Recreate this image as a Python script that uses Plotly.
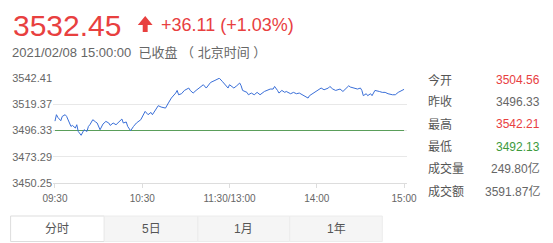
import plotly.graph_objects as go

# ---------------- data ----------------
minutes = [0, 1, 2, 4, 5, 7, 8, 10, 11, 12, 14, 15, 16, 18, 19, 20, 22, 23, 24, 26, 28, 29,
           31, 33, 35, 37, 38, 40, 42, 44, 46, 47, 49, 50, 52, 54, 56, 59, 61, 62, 64, 66,
           67, 69, 71, 73, 76, 78, 80, 83, 84, 85, 87, 89, 92, 93, 95, 97, 100, 102, 104,
           105, 107, 110, 112, 113, 115, 117, 119, 120, 122, 123, 125, 127, 128, 129, 132,
           133, 135, 137, 139, 141, 144, 146, 148, 150, 151, 153, 154, 156, 158, 159, 162,
           164, 166, 168, 170, 172, 174, 175, 177, 180, 182, 183, 185, 188, 189, 191, 193,
           196, 198, 200, 202, 203, 206, 208, 210, 211, 212, 214, 215, 217, 218, 220, 223,
           225, 227, 229, 232, 234, 236, 238, 240]
prices = [3504.56, 3510.2, 3507.8, 3504.9, 3508.7, 3510.2, 3508.7, 3502.9, 3499.9, 3500.8,
          3498.5, 3501.4, 3495.5, 3492.13, 3494.1, 3497.0, 3495.5, 3499.9, 3501.4, 3505.8,
          3503.8, 3502.9, 3497.0, 3502.0, 3504.3, 3502.9, 3500.8, 3502.9, 3501.4, 3503.8,
          3506.4, 3502.9, 3503.8, 3499.9, 3496.1, 3499.9, 3502.9, 3505.8, 3510.2, 3513.1,
          3510.2, 3512.2, 3510.2, 3513.9, 3518.1, 3516.9, 3516.0, 3520.5, 3524.8, 3529.2,
          3531.5, 3527.7, 3528.6, 3531.5, 3533.6, 3531.5, 3529.2, 3531.5, 3534.5, 3536.5,
          3533.6, 3535.0, 3538.5, 3540.3, 3541.5, 3542.21, 3539.5, 3536.5, 3533.6, 3536.5,
          3534.5, 3533.6, 3535.6, 3538.0, 3535.6, 3531.5, 3529.8, 3527.7, 3529.2, 3527.7,
          3529.8, 3527.7, 3530.6, 3531.5, 3532.7, 3532.7, 3535.0, 3531.5, 3529.2, 3531.5,
          3529.8, 3530.6, 3528.6, 3529.8, 3528.6, 3529.2, 3527.7, 3526.9, 3524.8, 3526.9,
          3528.6, 3530.6, 3532.1, 3533.6, 3532.1, 3533.6, 3535.0, 3532.7, 3531.5, 3532.7,
          3530.6, 3532.7, 3535.6, 3534.5, 3533.6, 3532.7, 3533.6, 3531.5, 3526.9, 3528.6,
          3526.9, 3528.6, 3526.9, 3531.5, 3530.6, 3529.8, 3529.8, 3528.6, 3527.7, 3527.7,
          3529.8, 3531.5, 3532.45]

prev_close = 3496.33
x_tickvals = [0, 60, 120, 180, 240]
x_ticktext = ["09:30", "10:30", "11:30/13:00", "14:00", "15:00"]
y_tickvals = [3450.25, 3473.29, 3496.33, 3519.37, 3542.41]
y_ticktext = ["3450.25", "3473.29", "3496.33", "3519.37", "3542.41"]

last_price = "3532.45"
change_text = "+36.11 (+1.03%)"
time_text = "2021/02/08 15:00:00  已收盘 （ 北京时间 ）"

stat_labels = ["今开", "昨收", "最高", "最低", "成交量", "成交额"]
stat_values = ["3504.56", "3496.33", "3542.21", "3492.13", "249.80亿", "3591.87亿"]
tab_labels = ["分时", "5日", "1月", "1年"]

# ---------------- layout geometry ----------------
W, H = 553, 243
L, R, T, B = 48, 146, 78, 60
PW, PH = W - L - R, H - T - B
PX_PER_MIN = 354 / 240.0

def px(x):
    return (x - L) / PW

def py(y):
    return (H - B - y) / PH

RED = "#e8403f"
GREEN = "#3c9a3c"
GRAY = "#666666"
FONT = "Liberation Sans, Arial, Noto Sans CJK SC"

fig = go.Figure()
fig.add_trace(go.Scatter(x=[0, 240], y=[prev_close, prev_close], mode="lines",
                         line=dict(color="#5a9e5a", width=1), hoverinfo="skip"))
fig.add_trace(go.Scatter(x=minutes, y=prices, mode="lines",
                         line=dict(color="#3a6fd8", width=1), hoverinfo="skip"))

fig.update_xaxes(range=[-2 / PX_PER_MIN, 240 + 3 / PX_PER_MIN], tickvals=x_tickvals,
                 ticktext=x_ticktext, showgrid=False, zeroline=False, showline=True,
                 linecolor="#dddddd", linewidth=1, ticks="outside", ticklen=4,
                 tickcolor="#dddddd", tickfont=dict(size=10, color=GRAY, family=FONT),
                 ticklabelstandoff=2, fixedrange=True)
fig.update_yaxes(range=[3450.25, 3542.41], tickvals=y_tickvals, ticktext=y_ticktext,
                 showgrid=True, gridcolor="#e8e8e8", gridwidth=1, zeroline=False,
                 showline=False, ticks="", tickfont=dict(size=11, color=GRAY, family=FONT),
                 fixedrange=True)

ann = []
shapes = []
ann.append(dict(x=px(5), y=py(25), xref="paper", yref="paper", text=last_price,
                showarrow=False, xanchor="left", yanchor="middle",
                font=dict(size=30, color=RED, family=FONT)))
ann.append(dict(x=px(156), y=py(25), xref="paper", yref="paper", text=change_text,
                showarrow=False, xanchor="left", yanchor="middle",
                font=dict(size=18, color=RED, family=FONT)))
ann.append(dict(x=px(4), y=py(52.5), xref="paper", yref="paper", text=time_text,
                showarrow=False, xanchor="left", yanchor="middle",
                font=dict(size=13, color=GRAY, family=FONT)))
# up arrow icon
pts = [(141.5, 16), (149, 25), (144, 25), (144, 32), (139, 32), (139, 25), (134, 25)]
path = "M " + " L ".join(f"{px(a):.5f},{py(b):.5f}" for a, b in pts) + " Z"
shapes.append(dict(type="path", path=path, xref="paper", yref="paper",
                   fillcolor=RED, line=dict(width=0)))

# stats panel
for i, (lab, val) in enumerate(zip(stat_labels, stat_values)):
    yy = 80 + i * 22.2
    try:
        v = float(val)
        col = RED if v > prev_close else (GREEN if v < prev_close else GRAY)
    except ValueError:
        col = GRAY
    ann.append(dict(x=px(426), y=py(yy), xref="paper", yref="paper", text=lab,
                    showarrow=False, xanchor="left", yanchor="middle",
                    font=dict(size=12, color="#555555", family=FONT)))
    ann.append(dict(x=px(544), y=py(yy), xref="paper", yref="paper", text=val,
                    showarrow=False, xanchor="right", yanchor="middle",
                    font=dict(size=12, color=col, family=FONT)))

# tabs
tab_x = [5, 100, 195, 288, 382]
for i, lab in enumerate(tab_labels):
    x0, x1 = tab_x[i], tab_x[i + 1]
    shapes.append(dict(type="rect", xref="paper", yref="paper",
                       x0=px(x0), x1=px(x1), y0=py(241.5), y1=py(216),
                       fillcolor="#ffffff" if i == 0 else "#f5f5f5",
                       line=dict(color="#dddddd" if i == 0 else "#ececec", width=1),
                       layer="below"))
    ann.append(dict(x=px((x0 + x1) / 2), y=py(228.5), xref="paper", yref="paper",
                    text=lab, showarrow=False, xanchor="center", yanchor="middle",
                    font=dict(size=12, color="#555555", family=FONT)))

fig.update_layout(width=W, height=H, margin=dict(l=L, r=R, t=T, b=B),
                  paper_bgcolor="white", plot_bgcolor="white", showlegend=False,
                  annotations=ann, shapes=shapes)

fig.write_html("out.html", config={"displayModeBar": False})
